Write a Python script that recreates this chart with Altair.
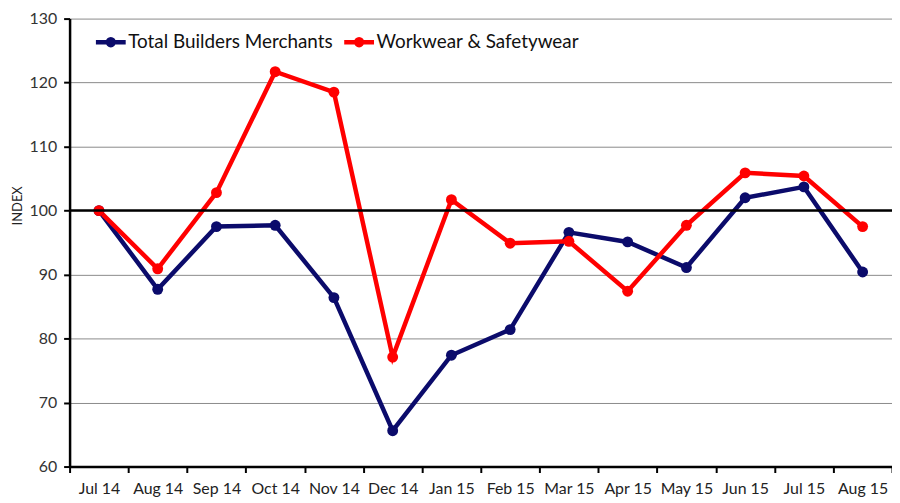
import altair as alt
import pandas as pd

months = ["Jul 14", "Aug 14", "Sep 14", "Oct 14", "Nov 14", "Dec 14", "Jan 15",
          "Feb 15", "Mar 15", "Apr 15", "May 15", "Jun 15", "Jul 15", "Aug 15"]
total_builders = [100, 87.7, 97.5, 97.7, 86.4, 65.6, 77.4, 81.4, 96.6, 95.1, 91.1, 102.0, 103.7, 90.4]
workwear = [100, 90.9, 102.8, 121.7, 118.5, 77.1, 101.7, 94.9, 95.2, 87.4, 97.7, 105.9, 105.4, 97.5]
series_names = ["Total Builders Merchants", "Workwear & Safetywear"]
series_colors = ["#0b0b6b", "#ff0000"]
baseline = [100]

rows = []
for name, vals in zip(series_names, [total_builders, workwear]):
    for m, v in zip(months, vals):
        rows.append({"month": m, "value": v, "series": name})
df = pd.DataFrame(rows)

FONT = "Lato"

x_enc = alt.X("month:N", sort=months, scale=alt.Scale(paddingInner=0, paddingOuter=0),
              axis=alt.Axis(title=None, tickBand="extent", labelAngle=0, labelFontSize=16,
                            labelColor="#222222", labelFont=FONT, labelPadding=8,
                            tickSize=6, tickColor="#000000", tickWidth=2,
                            domainColor="#000000", domainWidth=2.5, grid=False))
y_enc = alt.Y("value:Q", scale=alt.Scale(domain=[60, 130], nice=False, zero=False),
              axis=alt.Axis(title="INDEX", values=list(range(60, 131, 10)), labelFontSize=16,
                            labelColor="#333333", labelFont=FONT, labelPadding=7,
                            tickSize=6, tickColor="#000000", tickWidth=2,
                            domainColor="#000000", domainWidth=2.5,
                            grid=True, gridColor="#8a8a8a", gridWidth=1,
                            titleFont=FONT, titleFontSize=13, titleFontWeight="normal",
                            titleColor="#222222", titleAngle=-90, titleX=-52, titleY=188,
                            titleAlign="center", titleBaseline="middle"))

color_enc = alt.Color("series:N", scale=alt.Scale(domain=series_names, range=series_colors),
                      legend=alt.Legend(title=None, orient="none", legendX=24, legendY=6,
                                        direction="horizontal", labelFont=FONT, labelFontSize=19,
                                        labelColor="#111111", columnPadding=2, labelOffset=0,
                                        labelLimit=0,
                                        symbolType="M-1,0L1,0M-0.2,0A0.2,0.2 0 1,1 0.2,0A0.2,0.2 0 1,1 -0.2,0",
                                        symbolSize=900, symbolStrokeWidth=4.5, symbolFillColor="transparent"))

lines = alt.Chart(df).mark_line(strokeWidth=4.5).encode(x=x_enc, y=y_enc, color=color_enc)
points = alt.Chart(df).mark_circle(size=120, opacity=1).encode(
    x=alt.X("month:N", sort=months), y="value:Q",
    color=alt.Color("series:N", legend=None))

ref = alt.Chart(pd.DataFrame({"y": baseline})).mark_rule(color="#000000", strokeWidth=2.5).encode(y="y:Q")

chart = alt.layer(lines, points, ref).properties(
    width=828, height=451,
    autosize=alt.AutoSizeParams(type="none"),
    padding={"left": 62, "top": 9, "right": 0, "bottom": 30},
    background="#ffffff",
).configure_view(stroke=None)

chart.save("out.html", embed_options={"renderer": "svg", "actions": False})
